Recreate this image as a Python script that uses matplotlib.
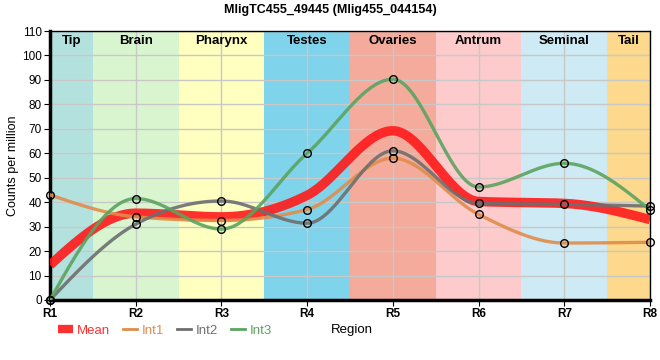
import numpy as np
import matplotlib
matplotlib.use("Agg")
import matplotlib.pyplot as plt
from matplotlib.lines import Line2D

plt.rcParams["font.family"] = ["Liberation Sans", "DejaVu Sans"]

regions = ["R1", "R2", "R3", "R4", "R5", "R6", "R7", "R8"]
tissues = ["Tip", "Brain", "Pharynx", "Testes", "Ovaries", "Antrum", "Seminal", "Tail"]
tissue_colors = ["#b3e2de", "#d9f5d0", "#ffffc0", "#7fd3eb", "#f4ab9c",
                 "#fdcbcc", "#ceeaf4", "#fcd98c"]

mean = [14.3, 35.5, 34.0, 42.8, 69.2, 40.3, 39.5, 32.9]
int1 = [43.0, 34.0, 32.5, 37.0, 58.0, 35.0, 23.3, 23.6]
int2 = [0.0, 31.0, 40.5, 31.4, 61.0, 39.5, 39.1, 38.4]
int3 = [0.0, 41.5, 29.0, 60.0, 90.3, 46.2, 55.9, 36.8]


def monotone(x, y, n=40):
    # d3 curveMonotoneX style (Fritsch-Carlson) interpolation
    x = np.asarray(x, float)
    y = np.asarray(y, float)
    h = np.diff(x)
    s = np.diff(y) / h
    t = np.zeros(len(x))
    for i in range(1, len(x) - 1):
        s0, s1 = s[i - 1], s[i]
        p = (s0 * h[i] + s1 * h[i - 1]) / (h[i - 1] + h[i])
        t[i] = (np.sign(s0) + np.sign(s1)) * min(abs(s0), abs(s1), 0.5 * abs(p))
    t[0] = (3 * s[0] - t[1]) / 2
    t[-1] = (3 * s[-1] - t[-2]) / 2
    xs, ys = [], []
    for i in range(len(x) - 1):
        u = np.linspace(0, 1, n)
        dx = h[i]
        y0, y1 = y[i], y[i + 1]
        c0 = y0 + dx * t[i] / 3
        c1 = y1 - dx * t[i + 1] / 3
        xs.append(x[i] + dx * u)
        ys.append((1 - u) ** 3 * y0 + 3 * (1 - u) ** 2 * u * c0
                  + 3 * (1 - u) * u ** 2 * c1 + u ** 3 * y1)
    return np.concatenate(xs), np.concatenate(ys)


fig = plt.figure(figsize=(6.6, 3.6), dpi=100)
ax = fig.add_axes([50 / 660, 60 / 360, 600 / 660, 269 / 360])
xs = np.arange(len(regions))

for i, (name, col) in enumerate(zip(tissues, tissue_colors)):
    lo = max(i - 0.5, 0)
    hi = min(i + 0.5, len(regions) - 1)
    ax.axvspan(lo, hi, color=col, lw=0, zorder=0)
    ax.text((lo + hi) / 2, 106, name, ha="center", va="center",
            fontsize=9.5, fontweight="bold", zorder=5)

ax.set_xlim(0, len(regions) - 1)
ax.set_ylim(0, 110)
ax.set_yticks(range(0, 111, 10))
ax.set_xticks(xs)
ax.set_xticklabels(regions, fontweight="bold", fontsize=8.5)
ax.tick_params(axis="y", labelsize=8.5, length=4, pad=2)
ax.tick_params(axis="x", length=4, pad=2)
ax.grid(True, color="#c8c8c8", lw=1, zorder=1)
ax.set_axisbelow(True)
for sp in ["top", "right"]:
    ax.spines[sp].set_linewidth(1)
for sp in ["left", "bottom"]:
    ax.spines[sp].set_linewidth(2.5)

series = [("Int1", int1, "#e08c4b"), ("Int2", int2, "#6e6e6e"), ("Int3", int3, "#5ba35f")]
cx, cy = monotone(xs, mean)
ax.plot(cx, cy, color="#ff1a1a", lw=6.8, alpha=0.9, solid_capstyle="butt", zorder=3)
for name, vals, col in series:
    cx, cy = monotone(xs, vals)
    ax.plot(cx, cy, color=col, lw=2.4, alpha=0.9, zorder=4)
    ax.plot(xs, vals, "o", ms=5.5, mfc="none", mec="black", mew=1, zorder=6,
            clip_on=False)

ax.set_ylabel("Counts per million", fontsize=9, labelpad=2)
fig.text(0.5, 0.972, "MligTC455_49445 (Mlig455_044154)", ha="center", va="center",
         fontsize=9, fontweight="bold")

handles = [Line2D([0], [0], color="#ff3030", lw=6, solid_capstyle="butt")]
handles += [Line2D([0], [0], color=c, lw=2) for _, _, c in series]
labels = ["Mean"] + [n for n, _, _ in series]
leg = fig.legend(handles, labels, loc="center left", bbox_to_anchor=(0.07, 0.082),
                 ncol=4, frameon=False, fontsize=9.5, handlelength=1.1,
                 handletextpad=0.3, columnspacing=1.0)
for txt, col in zip(leg.get_texts(), ["#ff3030"] + [c for _, _, c in series]):
    txt.set_color(col)
fig.text(331 / 660, 0.082, "Region", ha="left", va="center", fontsize=9.5)

fig.savefig("out.png", dpi=100)
